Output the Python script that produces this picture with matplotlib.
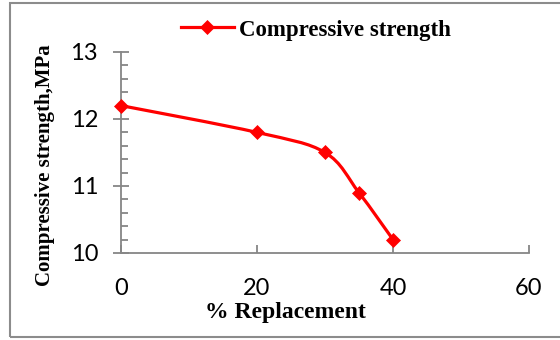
import numpy as np
import matplotlib
matplotlib.use('Agg')
import matplotlib.pyplot as plt
from matplotlib.path import Path
from matplotlib.patches import PathPatch, Rectangle
from matplotlib.lines import Line2D

# data
replacement = [0, 20, 30, 35, 40]          # % replacement
strength = [12.2, 11.8, 11.5, 10.9, 10.2]  # compressive strength, MPa
series_name = 'Compressive strength'
x_ticks = [0, 20, 40, 60]
y_ticks = [10, 11, 12, 13]

red = '#ff0000'
grey = '#868686'

fig = plt.figure(figsize=(5.6, 3.4), dpi=100)
ax = fig.add_axes([121 / 560, 1 - 253 / 340, 408 / 560, 201 / 340])

# outer border (right side runs off the picture)
fig.patches.append(Rectangle((10 / 560, 3 / 340), 1.2, 334 / 340, transform=fig.transFigure,
                             fill=False, edgecolor='#8c8c8c', linewidth=1.5))

# smoothed line like a spreadsheet "smooth line", bezier through the points
pts = np.column_stack([replacement, strength]).astype(float)
verts = [pts[0]]
codes = [Path.MOVETO]
n = len(pts)
for i in range(n - 1):
    p0 = pts[max(i - 1, 0)]
    p1 = pts[i]
    p2 = pts[i + 1]
    p3 = pts[min(i + 2, n - 1)]
    c1 = p1 + (p2 - p0) / 6.0
    c2 = p2 - (p3 - p1) / 6.0
    verts += [c1, c2, p2]
    codes += [Path.CURVE4] * 3
ax.add_patch(PathPatch(Path(verts, codes), facecolor='none', edgecolor=red, lw=2.3,
                       capstyle='round', joinstyle='round', zorder=3))
ax.plot(replacement, strength, linestyle='none', marker='D', ms=7.5, color=red,
        mec=red, mew=0.5, zorder=4, clip_on=False)

ax.set_xlim(0, 60)
ax.set_ylim(10, 13)
ax.set_xticks(x_ticks)
ax.set_yticks(y_ticks)
ax.set_yticks(np.arange(10, 13.01, 0.2), minor=True)

for s in ['top', 'right']:
    ax.spines[s].set_visible(False)
for s in ['left', 'bottom']:
    ax.spines[s].set_color(grey)
    ax.spines[s].set_linewidth(1.3)

tick_font = {'family': 'Lato', 'size': 17}
ax.set_xticklabels([str(t) for t in x_ticks], fontdict=tick_font)
ax.set_yticklabels([str(t) for t in y_ticks], fontdict=tick_font)
ax.tick_params(axis='x', direction='in', length=6, width=1.3, color=grey, pad=18)
ax.tick_params(axis='y', which='major', direction='inout', length=11, width=1.3,
               color=grey, pad=11)
ax.tick_params(axis='y', which='minor', direction='in', length=5, width=1.3, color=grey)

ax.set_xlabel('% Replacement', family='Liberation Serif', weight='bold', size=17)
ax.xaxis.set_label_coords((285 - 121) / 408, (253 - 302) / 201)
ax.set_ylabel('Compressive strength,MPa', family='Liberation Serif', weight='bold', size=15)
ax.yaxis.set_label_coords((55 - 121) / 408, (253 - 165) / 201)

handle = Line2D([], [], color=red, lw=2.3, marker='D', ms=7.5, mec=red, mew=0.5)
fig.legend([handle], [series_name], loc='center left',
           bbox_to_anchor=(181 / 560, 1 - 30 / 340), frameon=False,
           handlelength=2.3, handletextpad=0.25, borderpad=0, borderaxespad=0,
           prop={'family': 'Liberation Serif', 'weight': 'bold', 'size': 16.5})

fig.savefig('out.png', dpi=100)
